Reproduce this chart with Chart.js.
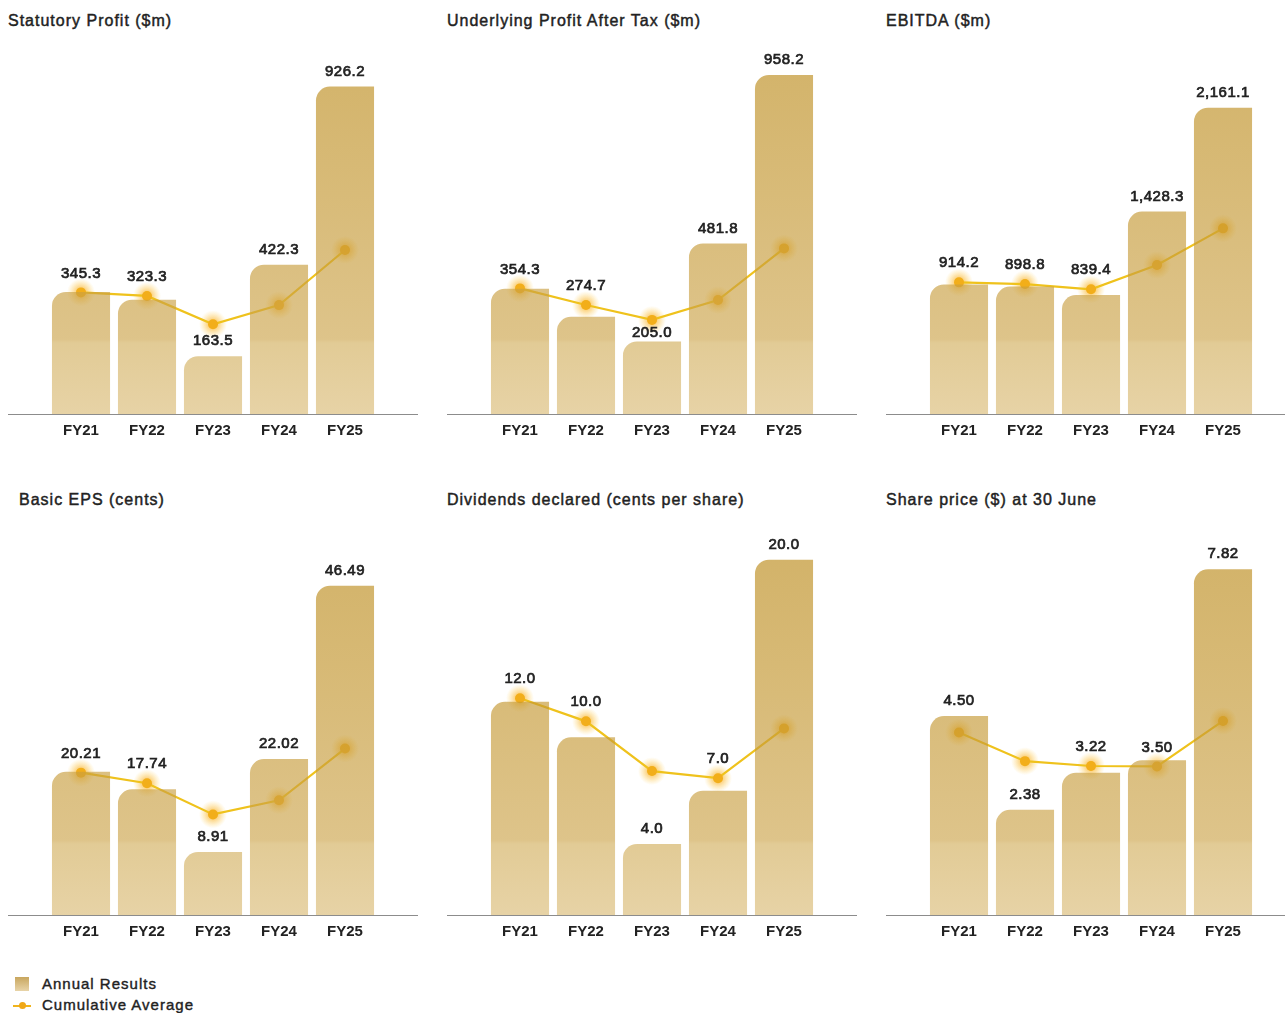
<!DOCTYPE html>
<html>
<head>
<meta charset="utf-8">
<script src="https://cdn.jsdelivr.net/npm/chart.js@4.4.1/dist/chart.umd.min.js"></script>
<style>
  body { margin: 0; background: #fff; width: 1285px; height: 1013px; position: relative; overflow: hidden;
         font-family: "Liberation Sans", Arial, sans-serif; color: #222; }
  .title { position: absolute; font-size: 16px; line-height: 20px; letter-spacing: 1px; white-space: nowrap;
           -webkit-text-stroke: 0.45px #222; }
  .panel { position: absolute; width: 410px; height: 413px; }
  .legend { position: absolute; left: 13px; font-size: 15px; line-height: 18px; letter-spacing: 1px;
            -webkit-text-stroke: 0.4px #222; }
  .legend div { position: relative; padding-left: 29px; height: 21px; }
  .sw-bar { position: absolute; left: 2px; top: 2px; width: 14px; height: 14px;
            background: linear-gradient(#c8a65e, #e8d4a8); -webkit-text-stroke: 0; }
  .sw-line { position: absolute; left: 0; top: 9px; width: 18px; height: 2px; background: #f0b41c; }
  .sw-dot { position: absolute; left: 6px; top: 6px; width: 7px; height: 7px; border-radius: 50%; background: #f0a818; }
</style>
</head>
<body>

<div class="title" style="left:8px;top:11px">Statutory Profit ($m)</div>
<div class="title" style="left:447px;top:11px">Underlying Profit After Tax ($m)</div>
<div class="title" style="left:886px;top:11px">EBITDA ($m)</div>
<div class="title" style="left:19px;top:490px">Basic EPS (cents)</div>
<div class="title" style="left:447px;top:490px">Dividends declared (cents per share)</div>
<div class="title" style="left:886px;top:490px">Share price ($) at 30 June</div>

<div class="panel" style="left:8px;top:35px"><canvas id="c1"></canvas></div>
<div class="panel" style="left:447px;top:35px"><canvas id="c2"></canvas></div>
<div class="panel" style="left:886px;top:35px"><canvas id="c3"></canvas></div>
<div class="panel" style="left:8px;top:536px"><canvas id="c4"></canvas></div>
<div class="panel" style="left:447px;top:536px"><canvas id="c5"></canvas></div>
<div class="panel" style="left:886px;top:536px"><canvas id="c6"></canvas></div>

<div class="legend" style="top:975px">
  <div><span class="sw-bar"></span>Annual Results</div>
  <div><span class="sw-line"></span><span class="sw-dot"></span>Cumulative Average</div>
</div>

<script>
const years = ['FY21', 'FY22', 'FY23', 'FY24', 'FY25'];

const statutoryProfit = [345.3, 323.3, 163.5, 422.3, 926.2];
const statutoryAvg = [344, 334, 254, 308, 464];

const underlyingProfit = [354.3, 274.7, 205.0, 481.8, 958.2];
const underlyingAvg = [355, 308, 266, 322, 468];

const ebitda = [914.2, 898.8, 839.4, 1428.3, 2161.1];
const ebitdaAvg = [929, 917, 880, 1051, 1310];

const basicEps = [20.21, 17.74, 8.91, 22.02, 46.49];
const basicEpsAvg = [20.1, 18.6, 14.2, 16.2, 23.5];

const dividends = [12.0, 10.0, 4.0, 7.0, 20.0];
const dividendsAvg = [12.2, 10.9, 8.1, 7.7, 10.5];

const sharePrice = [4.50, 2.38, 3.22, 3.50, 7.82];
const sharePriceAvg = [4.13, 3.48, 3.37, 3.36, 4.39];

const panels = [
    { id: 'c1', bars: statutoryProfit, avg: statutoryAvg, max: 1058, dp: 1 },
    { id: 'c2', bars: underlyingProfit, avg: underlyingAvg, max: 1057, dp: 1 },
    { id: 'c3', bars: ebitda, avg: ebitdaAvg, max: 2639, dp: 1 },
    { id: 'c4', bars: basicEps, avg: basicEpsAvg, max: 52.8, dp: 2 },
    { id: 'c5', bars: dividends, avg: dividendsAvg, max: 21.05, dp: 1 },
    { id: 'c6', bars: sharePrice, avg: sharePriceAvg, max: 8.46, dp: 2 }
];

const FONT = '"Liberation Sans", Arial, sans-serif';
const BAR_ALPHA = 0.65;

// colour we want to see over white -> rgba with the bar alpha
function overWhite(rgb) {
    const c = rgb.map(v => Math.max(0, Math.round((v - 255 * (1 - BAR_ALPHA)) / BAR_ALPHA)));
    return `rgba(${c[0]},${c[1]},${c[2]},${BAR_ALPHA})`;
}

function barGradient(ctx, area) {
    const g = ctx.createLinearGradient(0, area.top, 0, area.bottom);
    g.addColorStop(0, overWhite([210, 178, 104]));
    g.addColorStop(0.4, overWhite([216, 187, 120]));
    g.addColorStop(0.8, overWhite([222, 196, 138]));
    g.addColorStop(0.81, overWhite([226, 203, 150]));
    g.addColorStop(1, overWhite([231, 211, 166]));
    return g;
}

// soft orange halo behind the average points
const glowPlugin = {
    id: 'glow',
    beforeDatasetDraw(chart, args) {
        if (args.index !== 1) return;
        const ctx = chart.ctx;
        args.meta.data.forEach(pt => {
            const g = ctx.createRadialGradient(pt.x, pt.y, 0, pt.x, pt.y, 14);
            g.addColorStop(0, 'rgba(250,170,30,0.9)');
            g.addColorStop(0.45, 'rgba(250,185,50,0.5)');
            g.addColorStop(1, 'rgba(255,210,90,0)');
            ctx.save();
            ctx.fillStyle = g;
            ctx.beginPath();
            ctx.arc(pt.x, pt.y, 14, 0, Math.PI * 2);
            ctx.fill();
            ctx.restore();
        });
    }
};

// baseline across the whole panel + value labels above bars
const labelPlugin = {
    id: 'valueLabels',
    afterDatasetsDraw(chart, args, opts) {
        const ctx = chart.ctx;
        const area = chart.chartArea;
        ctx.save();
        ctx.strokeStyle = '#8c8c8c';
        ctx.lineWidth = 1;
        ctx.beginPath();
        ctx.moveTo(0, area.bottom + 0.5);
        ctx.lineTo(chart.width, area.bottom + 0.5);
        ctx.stroke();

        const bars = chart.getDatasetMeta(0).data;
        const pts = chart.getDatasetMeta(1).data;
        const values = chart.data.datasets[0].data;
        ctx.font = '15px ' + FONT;
        ctx.letterSpacing = '0.5px';
        ctx.fillStyle = '#222';
        ctx.strokeStyle = '#222';
        ctx.lineWidth = 0.7;
        ctx.textAlign = 'center';
        ctx.textBaseline = 'middle';
        bars.forEach((bar, i) => {
            const diff = bar.y - pts[i].y;
            let y = bar.y - 15;
            if (diff > -8 && diff < 20) {
                // lift the label over the average point when they would collide
                y = pts[i].y - 19;
            } else if (diff >= 20 && diff < 30) {
                // squeeze it between the point and the bar
                y = bar.y - 9;
            }
            const txt = values[i].toLocaleString('en-US', {
                minimumFractionDigits: opts.dp, maximumFractionDigits: opts.dp
            });
            ctx.fillText(txt, bar.x, y);
            ctx.strokeText(txt, bar.x, y);
        });
        ctx.restore();
    }
};

panels.forEach(p => {
    const ctx = document.getElementById(p.id).getContext('2d');
    new Chart(ctx, {
        type: 'bar',
        data: {
            labels: years,
            datasets: [{
                type: 'bar',
                label: 'Annual Results',
                data: p.bars,
                order: 0,
                backgroundColor: c => {
                    const area = c.chart.chartArea;
                    if (!area) return 'rgba(0,0,0,0)';
                    return barGradient(c.chart.ctx, area);
                },
                borderWidth: 0,
                borderRadius: { topLeft: 14, topRight: 0, bottomLeft: 0, bottomRight: 0 },
                borderSkipped: false,
                barPercentage: 0.88,
                categoryPercentage: 1
            }, {
                type: 'line',
                label: 'Cumulative Average',
                data: p.avg,
                order: 1,
                borderColor: '#efc21c',
                borderWidth: 2.2,
                tension: 0,
                pointRadius: 5,
                pointBackgroundColor: '#f2ae1a',
                pointBorderWidth: 0
            }]
        },
        options: {
            responsive: true,
            maintainAspectRatio: false,
            animation: false,
            layout: { padding: { left: 40, right: 40, top: 0, bottom: 0 } },
            plugins: {
                legend: { display: false },
                tooltip: { enabled: false },
                title: { display: false },
                valueLabels: { dp: p.dp }
            },
            scales: {
                x: {
                    grid: { display: false, drawTicks: false },
                    border: { display: false },
                    ticks: {
                        color: '#222',
                        padding: 8,
                        font: { family: FONT, size: 15, weight: 'bold' }
                    }
                },
                y: {
                    display: false,
                    min: 0,
                    max: p.max
                }
            }
        },
        plugins: [glowPlugin, labelPlugin]
    });
});
</script>
</body>
</html>
